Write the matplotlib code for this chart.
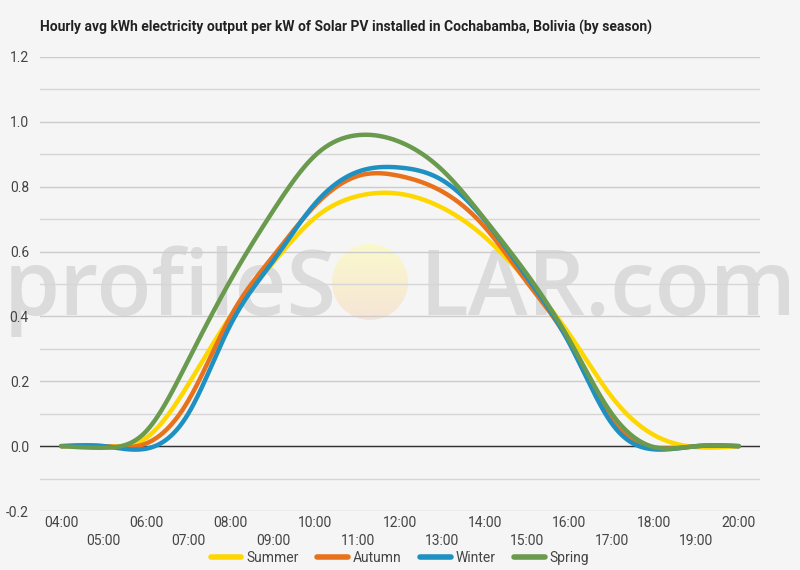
import numpy as np
import matplotlib
matplotlib.use("Agg")
import matplotlib.pyplot as plt
from matplotlib.patches import Circle

plt.rcParams['font.family'] = ['Roboto', 'DejaVu Sans']

hours = ["04:00", "05:00", "06:00", "07:00", "08:00", "09:00", "10:00", "11:00",
         "12:00", "13:00", "14:00", "15:00", "16:00", "17:00", "18:00", "19:00", "20:00"]
summer = [0.0, 0.0, 0.025, 0.19, 0.40, 0.565, 0.705, 0.771, 0.778, 0.735, 0.645, 0.51, 0.345, 0.152, 0.034, -0.003, 0.0]
autumn = [0.0, 0.0, 0.008, 0.14, 0.40, 0.585, 0.743, 0.833, 0.833, 0.785, 0.676, 0.505, 0.32, 0.08, -0.005, 0.0, 0.0]
winter = [0.0, 0.0, -0.008, 0.10, 0.375, 0.57, 0.749, 0.846, 0.859, 0.820, 0.697, 0.52, 0.317, 0.07, -0.01, 0.0, 0.0]
spring = [0.0, -0.005, 0.045, 0.265, 0.512, 0.725, 0.897, 0.959, 0.938, 0.851, 0.700, 0.53, 0.327, 0.10, -0.003, 0.0, 0.0]

series = [("Summer", summer, "#FFD700"),
          ("Autumn", autumn, "#E8721C"),
          ("Winter", winter, "#1F90C2"),
          ("Spring", spring, "#6A9A4E")]


def smooth(y, n=30):
    """Natural cubic spline through the data points (for drawing only)."""
    y = np.asarray(y, dtype=float)
    N = len(y)
    x = np.arange(N, dtype=float)
    A = np.zeros((N, N))
    b = np.zeros(N)
    A[0, 0] = 1
    A[-1, -1] = 1
    for i in range(1, N - 1):
        A[i, i - 1] = 1
        A[i, i] = 4
        A[i, i + 1] = 1
        b[i] = 6 * (y[i + 1] - 2 * y[i] + y[i - 1])
    M = np.linalg.solve(A, b)
    xs, ys = [], []
    t = np.linspace(0, 1, n, endpoint=False)
    for i in range(N - 1):
        a = y[i]
        c2 = M[i] / 2
        d3 = (M[i + 1] - M[i]) / 6
        b1 = (y[i + 1] - y[i]) - (2 * M[i] + M[i + 1]) / 6
        ys.append(a + b1 * t + c2 * t**2 + d3 * t**3)
        xs.append(x[i] + t)
    xs.append([x[-1]])
    ys.append([y[-1]])
    return np.concatenate(xs), np.concatenate(ys)


bg = "#F5F5F5"
fig = plt.figure(figsize=(8, 5.7), dpi=100, facecolor=bg)

# watermark (behind everything)
wm_col = "#DBDBDB"
fig.text(0.004, 0.447, "profileS", fontsize=65, color=wm_col, fontweight="semibold",
         ha="left", va="baseline", zorder=-5, family=["Open Sans", "DejaVu Sans"])
fig.text(0.995, 0.447, "LAR.com", fontsize=65, color=wm_col, fontweight="semibold",
         ha="right", va="baseline", zorder=-5, family=["Open Sans", "DejaVu Sans"])
sun_ax = fig.add_axes([332 / 800, 1 - 320 / 570, 76 / 800, 76 / 570], zorder=-4)
sun_ax.set_axis_off()
grad = np.linspace(0, 1, 100)[:, None] * np.ones((1, 10))
c_top = np.array([0.98, 0.975, 0.80])
c_bot = np.array([0.965, 0.90, 0.84])
img = c_top[None, None, :] * (1 - grad[..., None]) + c_bot[None, None, :] * grad[..., None]
im = sun_ax.imshow(img, extent=(0, 1, 0, 1), aspect="auto", origin="upper")
clip = Circle((0.5, 0.5), 0.5, transform=sun_ax.transAxes)
im.set_clip_path(clip)
sun_ax.set_xlim(0, 1)
sun_ax.set_ylim(0, 1)

ax = fig.add_axes([0.05, 0.1035, 0.90, 0.7965], zorder=1)
ax.patch.set_visible(False)

ax.set_xlim(-0.5, len(hours) - 0.5)
ax.set_ylim(-0.2, 1.2)
ax.set_yticks(np.arange(-0.2, 1.21, 0.2))
ax.set_yticks(np.arange(-0.1, 1.2, 0.2), minor=True)
ax.set_yticklabels([f"{v:.1f}" for v in np.arange(-0.2, 1.21, 0.2)])
ax.grid(axis="y", which="major", color="#CCCCCC", linewidth=1)
ax.grid(axis="y", which="minor", color="#D6D6D6", linewidth=1)
ax.set_axisbelow(True)
ax.axhline(0, color="#333333", linewidth=1, zorder=2)
ax.tick_params(axis="y", which="both", length=0, labelsize=10, labelcolor="#444444", pad=8)
for s in ax.spines.values():
    s.set_visible(False)

ax.set_xticks(np.arange(len(hours)))
ax.set_xticklabels([])
ax.tick_params(axis="x", length=0)
for i, h in enumerate(hours):
    dy = -0.010 if i % 2 == 0 else -0.050
    ax.text(i, dy, h, transform=ax.get_xaxis_transform(), ha="center", va="top",
            fontsize=10, color="#444444")

for name, vals, col in series:
    xs, ys = smooth(vals)
    ax.plot(xs, ys, color=col, linewidth=3.2, label=name, solid_capstyle="round", zorder=3)

leg = ax.legend(loc="center", bbox_to_anchor=(0.5, -0.103), ncol=4, frameon=False,
                fontsize=10, handlelength=2.2, handletextpad=0.35, columnspacing=1.35,
                labelcolor="#444444")
for lh in leg.get_lines():
    lh.set_linewidth(4)

fig.text(0.05, 0.952, "Hourly avg kWh electricity output per kW of Solar PV installed in Cochabamba, Bolivia (by season)",
         fontsize=10, fontweight="bold", color="#222222", ha="left", va="center")

fig.savefig("out.png", dpi=100, facecolor=bg)
